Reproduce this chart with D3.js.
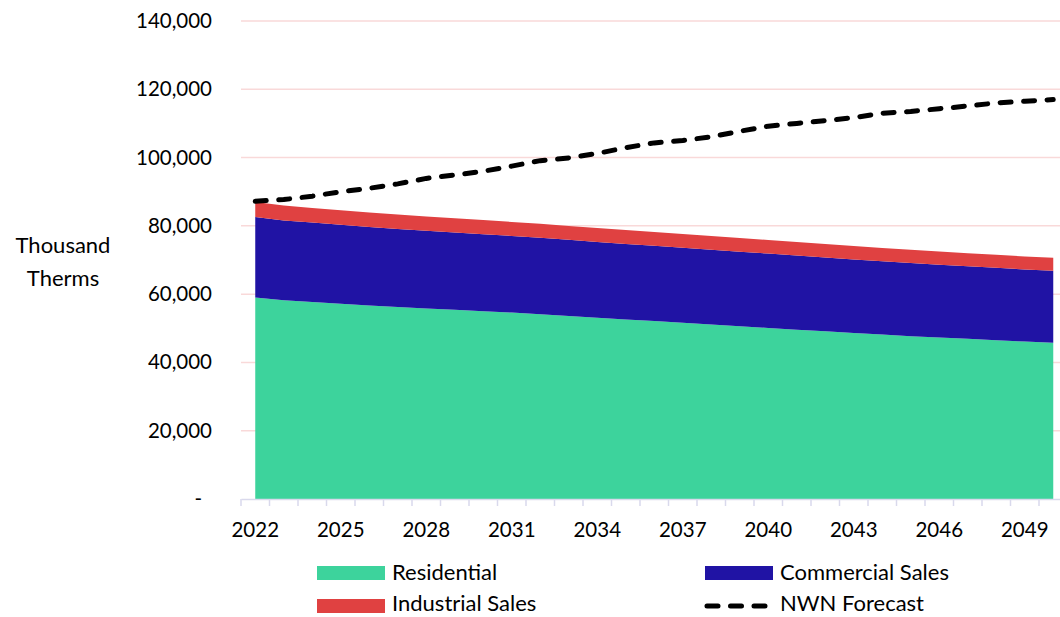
<!DOCTYPE html>
<html>
<head>
<meta charset="utf-8">
<script src="https://cdn.jsdelivr.net/npm/d3@7"></script>
<style>
  html, body { margin: 0; padding: 0; background: #ffffff; }
  svg { display: block; font-family: Lato, "Open Sans", sans-serif; }
</style>
</head>
<body>
<svg id="chart" width="1060" height="617"></svg>
<script>
// Annual gas demand, thousand therms
const years = d3.range(2022, 2051);
const residential = [
  59000, 58200, 57700, 57200, 56700, 56250, 55800, 55400, 55000, 54600,
  54100, 53600, 53100, 52600, 52100, 51600, 51100, 50600, 50100, 49600,
  49100, 48600, 48150, 47700, 47300, 46900, 46500, 46100, 45750
];
const commercial = [
  23600, 23400, 23250, 23100, 22950, 22850, 22750, 22650, 22550, 22450,
  22400, 22300, 22200, 22100, 22050, 21980, 21920, 21850, 21780, 21700,
  21620, 21550, 21480, 21400, 21330, 21260, 21200, 21140, 21080
];
const industrial = [
  4400, 4350, 4300, 4260, 4230, 4200, 4170, 4150, 4130, 4110,
  4100, 4090, 4080, 4070, 4060, 4050, 4030, 4010, 3990, 3970,
  3950, 3930, 3910, 3890, 3870, 3850, 3830, 3810, 3800
];
const nwnForecast = [
  87200, 87700, 88700, 90000, 91000, 92300, 93900, 94900, 96000, 97500,
  99100, 99900, 101200, 102900, 104300, 105000, 106100, 107700, 109200, 110000,
  110800, 111700, 113000, 113500, 114300, 115100, 116000, 116500, 117000
];
const yTicks = [0, 20000, 40000, 60000, 80000, 100000, 120000, 140000];
const xLabelYears = [2022, 2025, 2028, 2031, 2034, 2037, 2040, 2043, 2046, 2049];

const seriesNames = ["Residential", "Commercial Sales", "Industrial Sales"];
const seriesColors = ["#3dd39c", "#2013a4", "#e04141"];

const svg = d3.select("#chart");
const numSize = 20.5;   // tick labels
const wordSize = 22;    // axis title and legend

const left = 241, bandW = 28.5;
const x = d3.scaleBand().domain(years).range([left, left + years.length * bandW]).paddingInner(0).paddingOuter(0);
const y = d3.scaleLinear().domain([0, 140000]).range([499, 21]);
const cx = yr => x(yr) + x.bandwidth() / 2;

// gridlines
svg.append("g")
  .selectAll("line")
  .data(yTicks.filter(v => v > 0))
  .join("line")
  .attr("x1", left).attr("x2", x.range()[1])
  .attr("y1", d => y(d)).attr("y2", d => y(d))
  .attr("stroke", "#f9d9d9").attr("stroke-width", 1.5);

// stacked areas
const rows = years.map((yr, i) => ({
  year: yr,
  "Residential": residential[i],
  "Commercial Sales": commercial[i],
  "Industrial Sales": industrial[i]
}));
const stacked = d3.stack().keys(seriesNames)(rows);
const area = d3.area()
  .x(d => cx(d.data.year))
  .y0(d => y(d[0]))
  .y1(d => y(d[1]));
svg.append("g")
  .selectAll("path")
  .data(stacked)
  .join("path")
  .attr("d", area)
  .attr("fill", (d, i) => seriesColors[i]);

// x axis
const xAxis = d3.axisBottom(x).tickSize(0).tickFormat(d => xLabelYears.includes(d) ? d : "");
const gx = svg.append("g").attr("transform", "translate(0,499)").call(xAxis);
gx.select(".domain").attr("stroke", "#d9d9ec").attr("stroke-width", 1.5);
gx.selectAll(".tick text")
  .attr("dy", 0).attr("y", 38)
  .attr("font-size", numSize).attr("font-family", "Lato, sans-serif").attr("fill", "#000");
// category boundary ticks
gx.append("g")
  .selectAll("line")
  .data(years)
  .join("line")
  .attr("x1", d => x(d)).attr("x2", d => x(d))
  .attr("y1", 0).attr("y2", 7)
  .attr("stroke", "#d9d9ec").attr("stroke-width", 1.5);

// y axis labels
const yAxis = d3.axisLeft(y).tickValues(yTicks).tickSize(0)
  .tickFormat(d => d === 0 ? "-" : d3.format(",")(d));
const gy = svg.append("g").attr("transform", "translate(212,0)").call(yAxis);
gy.select(".domain").remove();
gy.selectAll(".tick text")
  .attr("x", d => d === 0 ? -10 : 0)
  .attr("font-size", numSize).attr("font-family", "Lato, sans-serif").attr("fill", "#000");

// y axis title
svg.append("text")
  .attr("text-anchor", "middle")
  .attr("font-size", wordSize).attr("fill", "#000")
  .selectAll("tspan")
  .data(["Thousand", "Therms"])
  .join("tspan")
  .attr("x", 63)
  .attr("y", (d, i) => 253 + i * 33)
  .text(d => d);

// forecast line
const line = d3.line().x((d, i) => cx(years[i])).y(d => y(d));
svg.append("path")
  .datum(nwnForecast)
  .attr("d", line)
  .attr("fill", "none")
  .attr("stroke", "#000")
  .attr("stroke-width", 5)
  .attr("stroke-linecap", "round")
  .attr("stroke-dasharray", "11 12.5");

// legend: two rows, two columns
const legendItems = [
  { name: "Residential", type: "rect", color: seriesColors[0], x: 317, y: 573, ty: 580 },
  { name: "Commercial Sales", type: "rect", color: seriesColors[1], x: 705, y: 573, ty: 580 },
  { name: "Industrial Sales", type: "rect", color: seriesColors[2], x: 317, y: 606, ty: 611 },
  { name: "NWN Forecast", type: "line", color: "#000", x: 705, y: 606, ty: 611 }
];
const lg = svg.append("g")
  .selectAll("g")
  .data(legendItems)
  .join("g")
  .attr("transform", d => `translate(${d.x},0)`);
lg.filter(d => d.type === "rect").append("rect")
  .attr("x", 0).attr("y", d => d.y - 7).attr("width", 68).attr("height", 14)
  .attr("fill", d => d.color);
lg.filter(d => d.type === "line").append("line")
  .attr("x1", 2).attr("x2", 64).attr("y1", d => d.y).attr("y2", d => d.y)
  .attr("stroke", "#000").attr("stroke-width", 5)
  .attr("stroke-linecap", "round").attr("stroke-dasharray", "11 12.5");
lg.append("text")
  .attr("x", 75).attr("y", d => d.ty)
  .attr("font-size", wordSize).attr("fill", "#000")
  .text(d => d.name);
</script>
</body>
</html>
